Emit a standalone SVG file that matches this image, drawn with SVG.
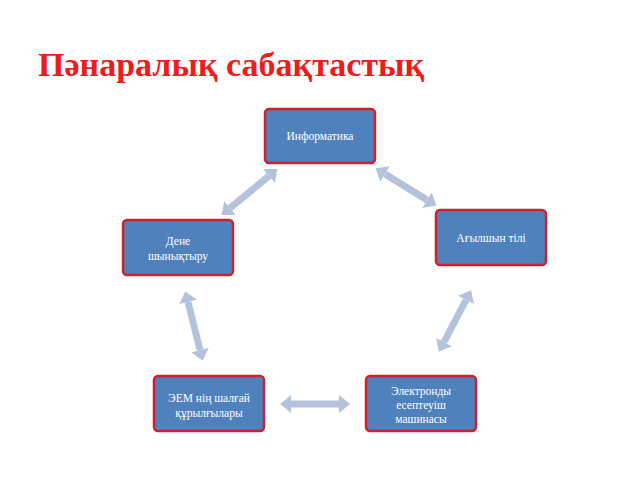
<svg xmlns="http://www.w3.org/2000/svg" width="640" height="480" viewBox="0 0 640 480">
<style>
.b{fill:#4f81bd;stroke:#d0202a;stroke-width:2.5}
.t{fill:#fff;font-family:"Liberation Serif",serif;font-size:11.5px}
.c{stroke:#b4c2dc;stroke-width:7;marker-start:url(#h);marker-end:url(#h)}
</style>
<defs><marker id="h" markerUnits="userSpaceOnUse" markerWidth="12" markerHeight="18" refX="0" refY="9" orient="auto-start-reverse"><path d="M0,0 L11,9 L0,18 z" fill="#b4c2dc"/></marker></defs>
<rect width="640" height="480" fill="#fff"/>
<text x="38" y="76" font-family="Liberation Serif,serif" font-size="34" font-weight="bold" fill="#ee1c1c">Пәнаралық сабақтастық</text>
<g id="connectors">
<line class="c" x1="269" y1="176" x2="230" y2="208"/>
<line class="c" x1="385" y1="174" x2="427" y2="200"/>
<line class="c" x1="466" y1="300" x2="444" y2="342"/>
<line class="c" x1="188" y1="302" x2="200" y2="350"/>
<line class="c" x1="291" y1="404" x2="339" y2="404"/>
</g>
<g id="n1"><rect class="b" x="265" y="109" width="110" height="54" rx="4"/><text class="t" x="320" y="140" text-anchor="middle">Информатика</text></g>
<g id="n2"><rect class="b" x="436" y="210" width="110" height="55" rx="4"/><text class="t" x="491" y="242" text-anchor="middle">Ағылшын тілі</text></g>
<g id="n3"><rect class="b" x="123" y="220" width="110" height="55" rx="4"/><text class="t" x="178" y="245" text-anchor="middle"><tspan x="178">Дене</tspan><tspan x="178" dy="15">шынықтыру</tspan></text></g>
<g id="n4"><rect class="b" x="154" y="376" width="110" height="55" rx="4"/><text class="t" x="209" y="402" text-anchor="middle"><tspan x="209">ЭЕМ нің шалғай</tspan><tspan x="209" dy="15">құрылғылары</tspan></text></g>
<g id="n5"><rect class="b" x="366" y="376" width="110" height="55" rx="4"/><text class="t" x="421" y="395" text-anchor="middle"><tspan x="421">Электронды</tspan><tspan x="421" dy="14">есептеуіш</tspan><tspan x="421" dy="14">машинасы</tspan></text></g>
</svg>
